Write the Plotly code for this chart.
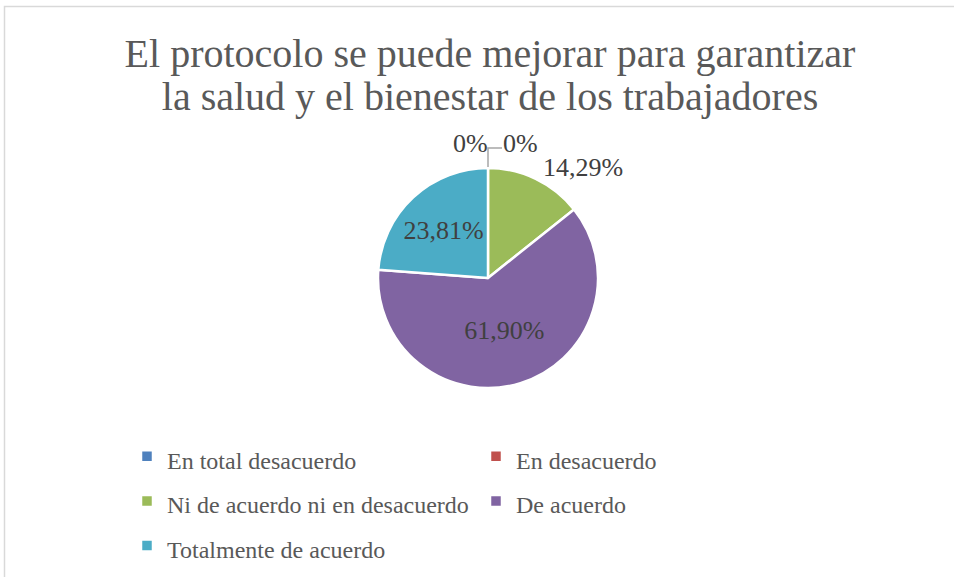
import plotly.graph_objects as go

categories = ["En total desacuerdo", "En desacuerdo", "Ni de acuerdo ni en desacuerdo",
              "De acuerdo", "Totalmente de acuerdo"]
counts = [0, 0, 3, 13, 5]
label_text = ["0%", "0%", "14,29%", "61,90%", "23,81%"]
colors = ["#4F81BD", "#C0504D", "#9BBB59", "#8064A2", "#4BACC6"]

W, H = 954, 577
SERIF = "Liberation Serif"

def px_x(x):
    return x / W

def px_y(y):
    return 1 - y / H

# zero slices get their labels placed as annotations (as in the original)
text_pos = ["none" if c == 0 else ("outside" if c / sum(counts) < 0.2 else "inside")
            for c in counts]

fig = go.Figure(go.Pie(
    labels=[f"<span style='font-size:24px'>{c}</span>" for c in categories],
    values=counts,
    text=label_text,
    textinfo="text",
    textposition=text_pos,
    sort=False,
    direction="clockwise",
    rotation=0,
    marker=dict(colors=colors, line=dict(color="white", width=2.5)),
    textfont=dict(family=SERIF, size=26, color="#404040"),
    insidetextorientation="horizontal",
    domain=dict(x=[px_x(378), px_x(598)], y=[px_y(388), px_y(168)]),
    showlegend=True,
    hoverinfo="label+percent",
))

zero_labels = [t for t, c in zip(label_text, counts) if c == 0]
ann = []
for t, xp in zip(zero_labels, [470, 520]):
    ann.append(dict(text=t, x=px_x(xp), y=px_y(143), xref="paper", yref="paper",
                    showarrow=False, xanchor="center", yanchor="middle",
                    font=dict(family=SERIF, size=26, color="#404040")))

fig.update_layout(
    width=W, height=H,
    margin=dict(l=0, r=0, t=0, b=0, autoexpand=False),
    paper_bgcolor="white",
    title=dict(
        text="<span style='font-size:40px'>El protocolo se puede mejorar para garantizar</span><br>"
             "<span style='font-size:40px'>la salud y el bienestar de los trabajadores</span>",
        x=px_x(490), xanchor="center", y=px_y(67), yanchor="top",
        font=dict(family=SERIF, size=33, color="#595959"),
    ),
    legend=dict(
        orientation="h",
        x=px_x(127), xanchor="left",
        y=px_y(429), yanchor="top",
        entrywidth=304, entrywidthmode="pixels",
        font=dict(family=SERIF, size=32, color="#595959"),
        tracegroupgap=0,
    ),
    annotations=ann,
    shapes=[
        dict(type="rect", xref="paper", yref="paper",
             x0=px_x(4.5), x1=px_x(960), y0=px_y(590), y1=px_y(6.5),
             line=dict(color="#D9D9D9", width=1.5), fillcolor="rgba(0,0,0,0)"),
        dict(type="path", xref="paper", yref="paper",
             path=f"M {px_x(488)} {px_y(167)} L {px_x(488)} {px_y(148)} L {px_x(502)} {px_y(148)}",
             line=dict(color="#A6A6A6", width=1.5)),
    ],
)

fig.write_html("out.html",
               config={"displayModeBar": False},
               post_script="document.body.style.margin='0';document.body.style.overflow='hidden';")
